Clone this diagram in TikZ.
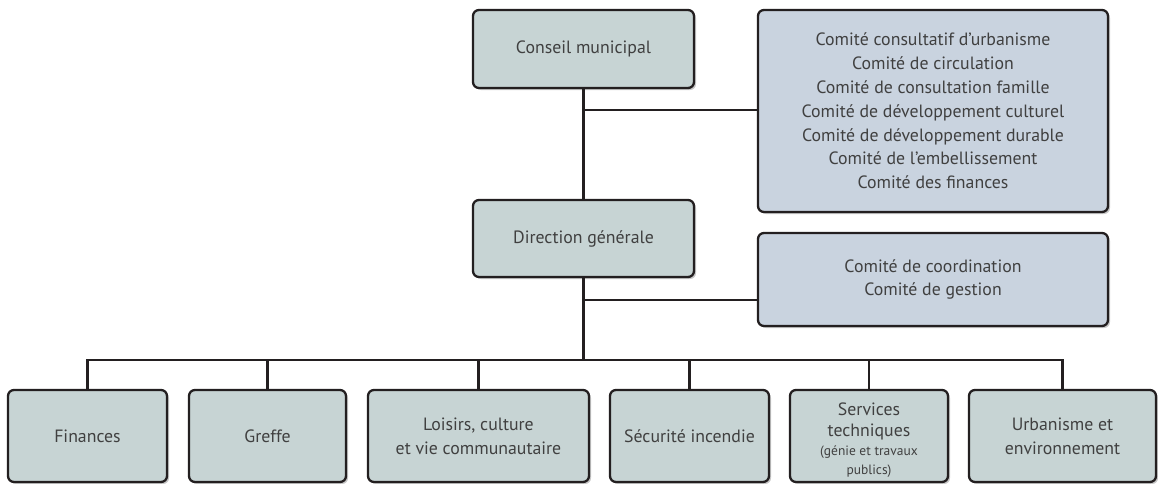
\documentclass[tikz,border=0pt]{standalone}
\usepackage{fontspec}
\setmainfont{PT Sans}
\usetikzlibrary{shadows}
\definecolor{gfill}{HTML}{C7D4D4}
\definecolor{bfill}{HTML}{C9D3DF}
\definecolor{edge}{HTML}{231F20}
\definecolor{txt}{HTML}{404040}
\tikzset{
  box/.style={rectangle, rounded corners=6pt, draw=edge, line width=2.3pt,
    inner sep=0pt, align=center, text=txt,
    font=\fontsize{17.8}{23.8}\selectfont,
    drop shadow={shadow xshift=2pt, shadow yshift=-2pt, opacity=0.22, fill=black}},
  gbox/.style={box, fill=gfill},
  bbox/.style={box, fill=bfill},
  conn/.style={draw=edge, line width=2.3pt}
}
\newcommand{\smalltxt}[1]{{\fontsize{13.5}{16}\selectfont #1}}
\begin{document}
\begin{tikzpicture}[x=1pt,y=-1pt]
\useasboundingbox (0,0) rectangle (1158,483);
% top level
\node[gbox, minimum width=221pt, minimum height=78pt] (cm) at (583.5,49) {Conseil municipal};
\node[gbox, minimum width=221pt, minimum height=77pt] (dg) at (583.5,238.5) {Direction générale};
\node[bbox, minimum width=350pt, minimum height=202pt] (c1) at (933,111)
  {Comité consultatif d’urbanisme\\Comité de circulation\\Comité de consultation famille\\Comité de développement culturel\\Comité de développement durable\\Comité de l’embellissement\\Comité des finances};
\node[bbox, minimum width=350pt, minimum height=93pt] (c2) at (933,279.5)
  {Comité de coordination\\Comité de gestion};
% bottom level
\node[gbox, minimum width=159pt, minimum height=92pt] (fin) at (87.5,436) {Finances};
\node[gbox, minimum width=157pt, minimum height=92pt] (gre) at (267.5,436) {Greffe};
\node[gbox, minimum width=221pt, minimum height=92pt] (loi) at (478.5,436) {Loisirs, culture\\et vie communautaire};
\node[gbox, minimum width=159pt, minimum height=92pt] (sec) at (689.5,436) {Sécurité incendie};
\node[gbox, minimum width=158pt, minimum height=92pt, font=\fontsize{17.8}{21.5}\selectfont] (ser) at (869,436)
  {\rule{0pt}{21pt}Services\\[-1pt]techniques\\[-2pt]\smalltxt{(génie et travaux}\\[-3pt]\smalltxt{publics)}};
\node[gbox, minimum width=187pt, minimum height=92pt] (urb) at (1062.5,436) {Urbanisme et\\environnement};
% connectors
\coordinate (j1) at (583.5,110);
\coordinate (j2) at (583.5,300);
\coordinate (bus) at (583.5,360);
\draw[conn] (cm.south) -- (dg.north);
\draw[conn] (j1) -- (j1 -| c1.west);
\draw[conn] (dg.south) -- (bus);
\draw[conn] (j2) -- (j2 -| c2.west);
\draw[conn] (fin.north) -- (fin.north |- bus) -- (urb.north |- bus) -- (urb.north);
\draw[conn] (gre.north) -- (gre.north |- bus);
\draw[conn] (loi.north) -- (loi.north |- bus);
\draw[conn] (sec.north) -- (sec.north |- bus);
\draw[conn] (ser.north) -- (ser.north |- bus);
\end{tikzpicture}
\end{document}
